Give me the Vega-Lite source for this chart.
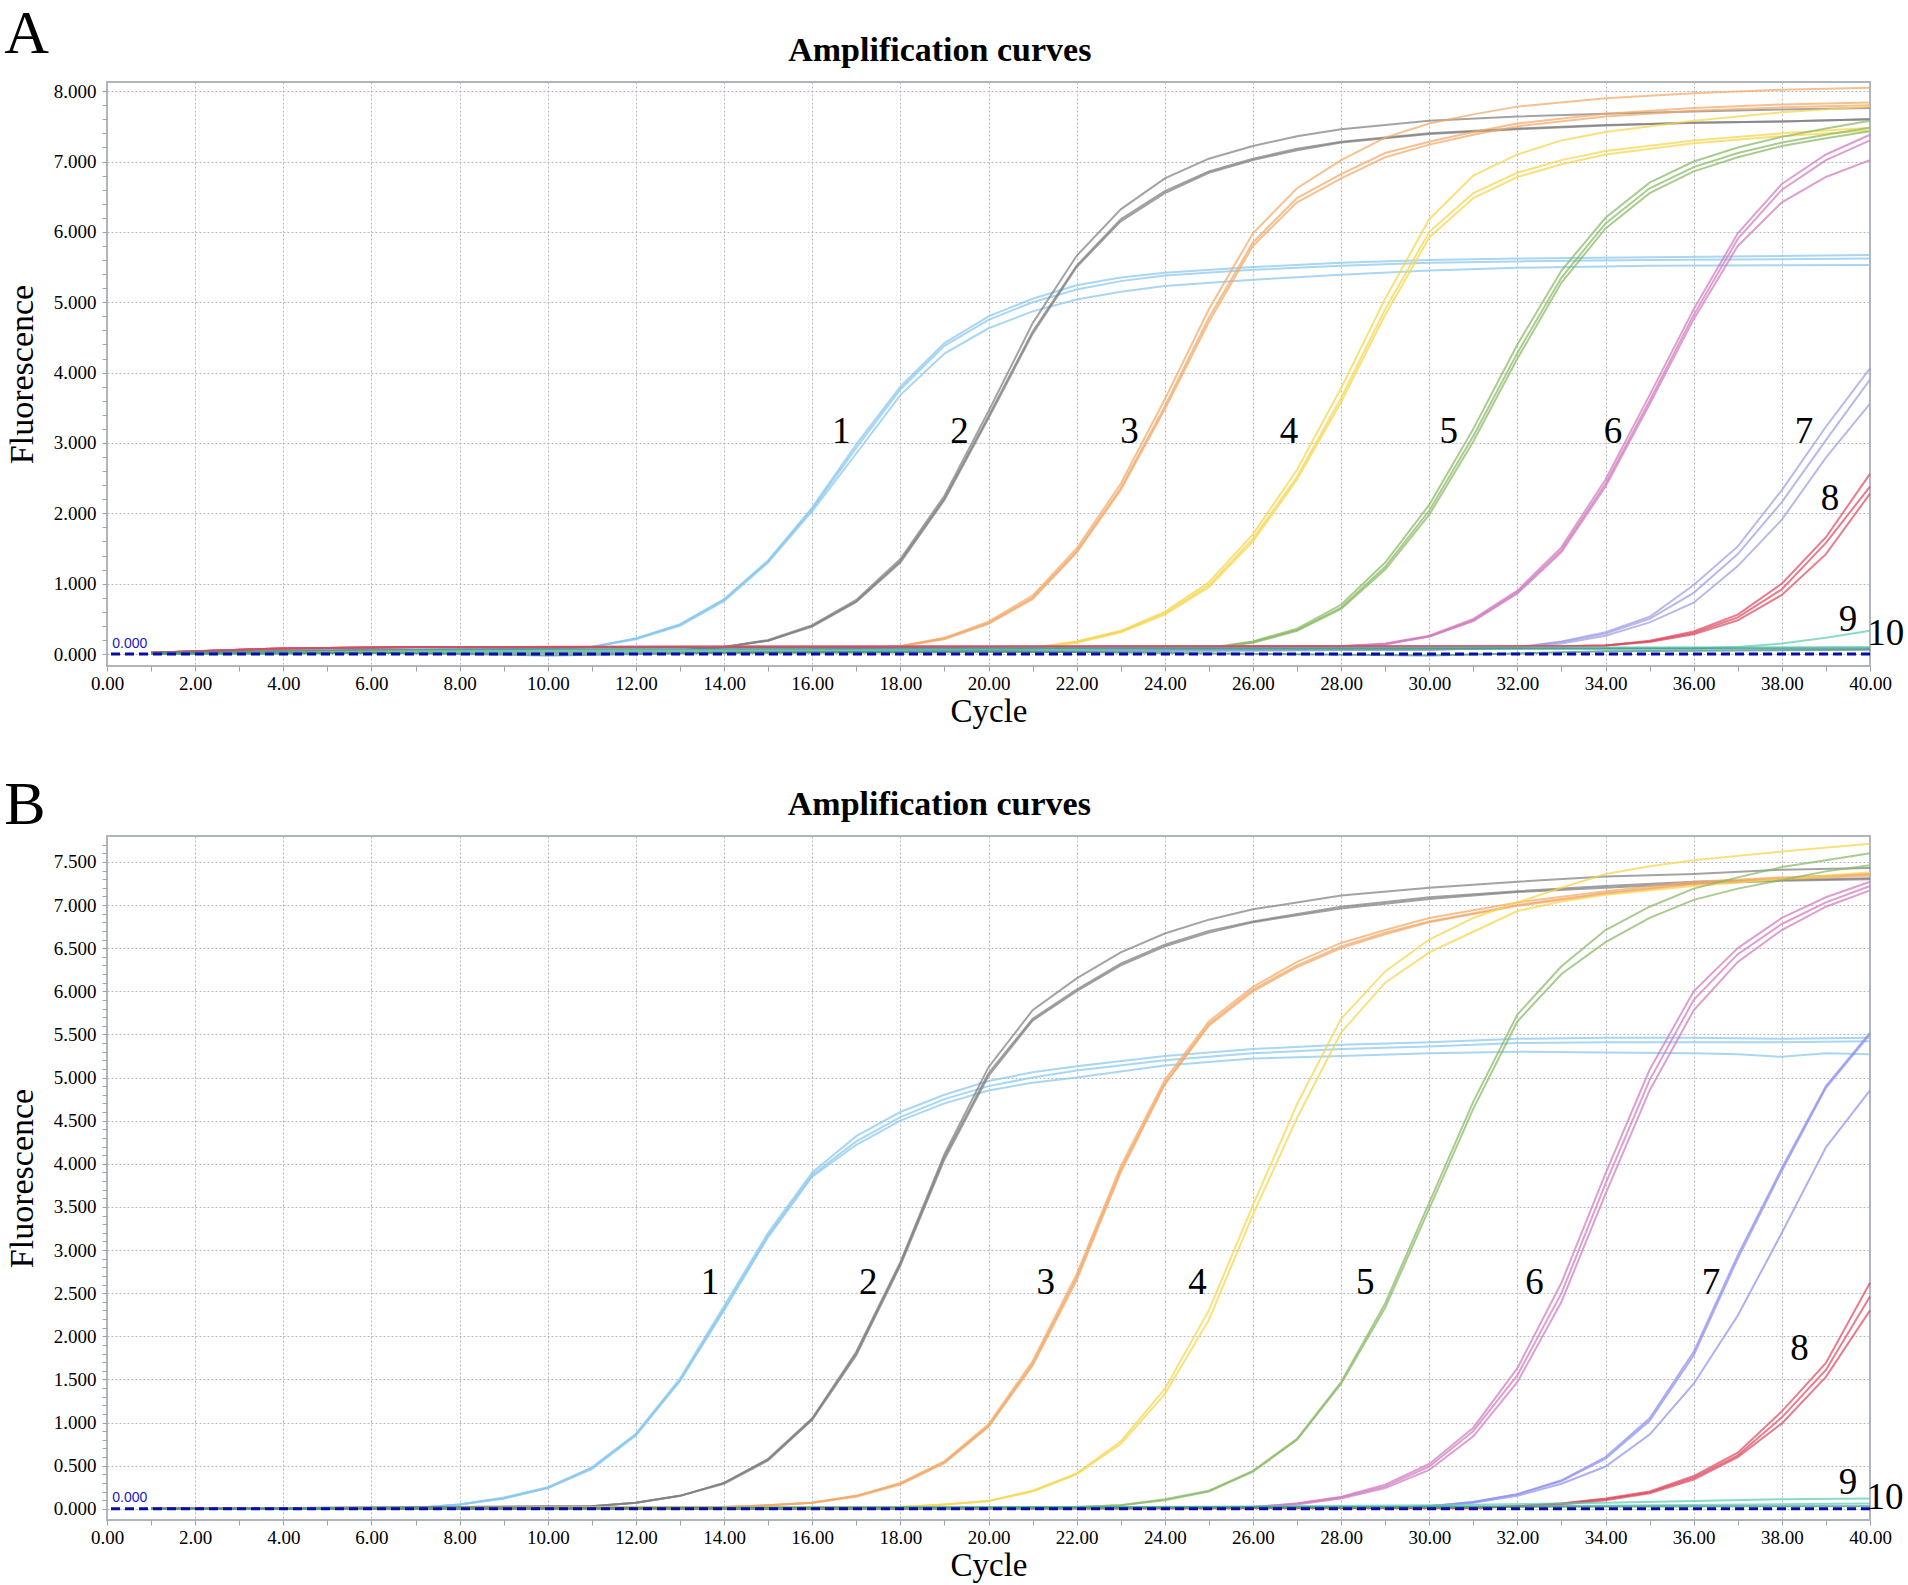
{
"$schema": "https://vega.github.io/schema/vega-lite/v6.json",
"background": "white",
"padding": {"left": 4, "top": 3, "right": 0, "bottom": 0},
"spacing": 44,
"config": {
  "view": {"stroke": "#b0b4bb", "strokeWidth": 2},
  "title": {"font": "Liberation Serif", "color": "#000000"},
  "text": {"font": "Liberation Serif"}
},
"datasets": {
"t": [
{"p":"A","x":16.66,"y":3.16,"t":"1"},{"p":"A","x":19.34,"y":3.16,"t":"2"},{"p":"A","x":23.2,"y":3.16,"t":"3"},{"p":"A","x":26.82,"y":3.16,"t":"4"},{"p":"A","x":30.44,"y":3.16,"t":"5"},{"p":"A","x":34.17,"y":3.16,"t":"6"},{"p":"A","x":38.5,"y":3.16,"t":"7"},{"p":"A","x":39.09,"y":2.21,"t":"8"},{"p":"A","x":39.5,"y":0.48,"t":"9"},{"p":"A","x":40.36,"y":0.28,"t":"10"},
{"p":"B","x":13.68,"y":2.62,"t":"1"},{"p":"B","x":17.27,"y":2.62,"t":"2"},{"p":"B","x":21.3,"y":2.62,"t":"3"},{"p":"B","x":24.74,"y":2.62,"t":"4"},{"p":"B","x":28.55,"y":2.62,"t":"5"},{"p":"B","x":32.39,"y":2.62,"t":"6"},{"p":"B","x":36.39,"y":2.62,"t":"7"},{"p":"B","x":38.4,"y":1.85,"t":"8"},{"p":"B","x":39.5,"y":0.3,"t":"9"},{"p":"B","x":40.34,"y":0.13,"t":"10"}
],
"c": [
{"p":"A","s":1,"r":"a","x":1,"y":0.02},{"p":"A","s":1,"r":"a","x":5,"y":0.05},{"p":"A","s":1,"r":"a","x":9,"y":0.07},{"p":"A","s":1,"r":"a","x":11,"y":0.1},{"p":"A","s":1,"r":"a","x":12,"y":0.22},{"p":"A","s":1,"r":"a","x":13,"y":0.42},{"p":"A","s":1,"r":"a","x":14,"y":0.78},{"p":"A","s":1,"r":"a","x":15,"y":1.33},{"p":"A","s":1,"r":"a","x":16,"y":2.08},{"p":"A","s":1,"r":"a","x":17,"y":2.98},{"p":"A","s":1,"r":"a","x":18,"y":3.8},{"p":"A","s":1,"r":"a","x":19,"y":4.42},{"p":"A","s":1,"r":"a","x":20,"y":4.8},{"p":"A","s":1,"r":"a","x":21,"y":5.05},{"p":"A","s":1,"r":"a","x":22,"y":5.24},{"p":"A","s":1,"r":"a","x":23,"y":5.35},{"p":"A","s":1,"r":"a","x":24,"y":5.42},{"p":"A","s":1,"r":"a","x":26,"y":5.5},{"p":"A","s":1,"r":"a","x":28,"y":5.56},{"p":"A","s":1,"r":"a","x":30,"y":5.6},{"p":"A","s":1,"r":"a","x":32,"y":5.62},{"p":"A","s":1,"r":"a","x":35,"y":5.64},{"p":"A","s":1,"r":"a","x":40,"y":5.67},
{"p":"A","s":1,"r":"b","x":1,"y":0.02},{"p":"A","s":1,"r":"b","x":5,"y":0.05},{"p":"A","s":1,"r":"b","x":9,"y":0.07},{"p":"A","s":1,"r":"b","x":11,"y":0.1},{"p":"A","s":1,"r":"b","x":12,"y":0.22},{"p":"A","s":1,"r":"b","x":13,"y":0.42},{"p":"A","s":1,"r":"b","x":14,"y":0.77},{"p":"A","s":1,"r":"b","x":15,"y":1.32},{"p":"A","s":1,"r":"b","x":16,"y":2.06},{"p":"A","s":1,"r":"b","x":17,"y":2.93},{"p":"A","s":1,"r":"b","x":18,"y":3.76},{"p":"A","s":1,"r":"b","x":19,"y":4.38},{"p":"A","s":1,"r":"b","x":20,"y":4.75},{"p":"A","s":1,"r":"b","x":21,"y":5.0},{"p":"A","s":1,"r":"b","x":22,"y":5.18},{"p":"A","s":1,"r":"b","x":23,"y":5.3},{"p":"A","s":1,"r":"b","x":24,"y":5.38},{"p":"A","s":1,"r":"b","x":26,"y":5.46},{"p":"A","s":1,"r":"b","x":28,"y":5.52},{"p":"A","s":1,"r":"b","x":30,"y":5.56},{"p":"A","s":1,"r":"b","x":32,"y":5.58},{"p":"A","s":1,"r":"b","x":35,"y":5.6},{"p":"A","s":1,"r":"b","x":40,"y":5.62},
{"p":"A","s":1,"r":"c","x":1,"y":0.02},{"p":"A","s":1,"r":"c","x":5,"y":0.05},{"p":"A","s":1,"r":"c","x":9,"y":0.07},{"p":"A","s":1,"r":"c","x":11,"y":0.1},{"p":"A","s":1,"r":"c","x":12,"y":0.21},{"p":"A","s":1,"r":"c","x":13,"y":0.4},{"p":"A","s":1,"r":"c","x":14,"y":0.75},{"p":"A","s":1,"r":"c","x":15,"y":1.3},{"p":"A","s":1,"r":"c","x":16,"y":2.03},{"p":"A","s":1,"r":"c","x":17,"y":2.85},{"p":"A","s":1,"r":"c","x":18,"y":3.68},{"p":"A","s":1,"r":"c","x":19,"y":4.27},{"p":"A","s":1,"r":"c","x":20,"y":4.63},{"p":"A","s":1,"r":"c","x":21,"y":4.87},{"p":"A","s":1,"r":"c","x":22,"y":5.04},{"p":"A","s":1,"r":"c","x":23,"y":5.15},{"p":"A","s":1,"r":"c","x":24,"y":5.23},{"p":"A","s":1,"r":"c","x":26,"y":5.32},{"p":"A","s":1,"r":"c","x":28,"y":5.39},{"p":"A","s":1,"r":"c","x":30,"y":5.45},{"p":"A","s":1,"r":"c","x":32,"y":5.49},{"p":"A","s":1,"r":"c","x":35,"y":5.52},{"p":"A","s":1,"r":"c","x":40,"y":5.53},
{"p":"A","s":2,"r":"a","x":1,"y":0.02},{"p":"A","s":2,"r":"a","x":8,"y":0.03},{"p":"A","s":2,"r":"a","x":12,"y":0.04},{"p":"A","s":2,"r":"a","x":13,"y":0.05},{"p":"A","s":2,"r":"a","x":14,"y":0.1},{"p":"A","s":2,"r":"a","x":15,"y":0.19},{"p":"A","s":2,"r":"a","x":16,"y":0.4},{"p":"A","s":2,"r":"a","x":17,"y":0.75},{"p":"A","s":2,"r":"a","x":18,"y":1.32},{"p":"A","s":2,"r":"a","x":19,"y":2.21},{"p":"A","s":2,"r":"a","x":20,"y":3.38},{"p":"A","s":2,"r":"a","x":21,"y":4.58},{"p":"A","s":2,"r":"a","x":22,"y":5.52},{"p":"A","s":2,"r":"a","x":23,"y":6.18},{"p":"A","s":2,"r":"a","x":24,"y":6.58},{"p":"A","s":2,"r":"a","x":25,"y":6.86},{"p":"A","s":2,"r":"a","x":26,"y":7.04},{"p":"A","s":2,"r":"a","x":27,"y":7.18},{"p":"A","s":2,"r":"a","x":28,"y":7.28},{"p":"A","s":2,"r":"a","x":30,"y":7.4},{"p":"A","s":2,"r":"a","x":32,"y":7.47},{"p":"A","s":2,"r":"a","x":34,"y":7.52},{"p":"A","s":2,"r":"a","x":36,"y":7.55},{"p":"A","s":2,"r":"a","x":38,"y":7.57},{"p":"A","s":2,"r":"a","x":40,"y":7.6},
{"p":"A","s":2,"r":"b","x":1,"y":0.02},{"p":"A","s":2,"r":"b","x":8,"y":0.03},{"p":"A","s":2,"r":"b","x":12,"y":0.04},{"p":"A","s":2,"r":"b","x":13,"y":0.05},{"p":"A","s":2,"r":"b","x":14,"y":0.1},{"p":"A","s":2,"r":"b","x":15,"y":0.19},{"p":"A","s":2,"r":"b","x":16,"y":0.39},{"p":"A","s":2,"r":"b","x":17,"y":0.74},{"p":"A","s":2,"r":"b","x":18,"y":1.3},{"p":"A","s":2,"r":"b","x":19,"y":2.19},{"p":"A","s":2,"r":"b","x":20,"y":3.35},{"p":"A","s":2,"r":"b","x":21,"y":4.55},{"p":"A","s":2,"r":"b","x":22,"y":5.5},{"p":"A","s":2,"r":"b","x":23,"y":6.15},{"p":"A","s":2,"r":"b","x":24,"y":6.55},{"p":"A","s":2,"r":"b","x":25,"y":6.84},{"p":"A","s":2,"r":"b","x":26,"y":7.02},{"p":"A","s":2,"r":"b","x":27,"y":7.16},{"p":"A","s":2,"r":"b","x":28,"y":7.27},{"p":"A","s":2,"r":"b","x":30,"y":7.39},{"p":"A","s":2,"r":"b","x":32,"y":7.46},{"p":"A","s":2,"r":"b","x":34,"y":7.51},{"p":"A","s":2,"r":"b","x":36,"y":7.55},{"p":"A","s":2,"r":"b","x":38,"y":7.57},{"p":"A","s":2,"r":"b","x":40,"y":7.6},
{"p":"A","s":2,"r":"c","x":1,"y":0.02},{"p":"A","s":2,"r":"c","x":8,"y":0.03},{"p":"A","s":2,"r":"c","x":12,"y":0.04},{"p":"A","s":2,"r":"c","x":13,"y":0.05},{"p":"A","s":2,"r":"c","x":14,"y":0.1},{"p":"A","s":2,"r":"c","x":15,"y":0.2},{"p":"A","s":2,"r":"c","x":16,"y":0.41},{"p":"A","s":2,"r":"c","x":17,"y":0.77},{"p":"A","s":2,"r":"c","x":18,"y":1.35},{"p":"A","s":2,"r":"c","x":19,"y":2.25},{"p":"A","s":2,"r":"c","x":20,"y":3.45},{"p":"A","s":2,"r":"c","x":21,"y":4.7},{"p":"A","s":2,"r":"c","x":22,"y":5.66},{"p":"A","s":2,"r":"c","x":23,"y":6.32},{"p":"A","s":2,"r":"c","x":24,"y":6.76},{"p":"A","s":2,"r":"c","x":25,"y":7.04},{"p":"A","s":2,"r":"c","x":26,"y":7.22},{"p":"A","s":2,"r":"c","x":27,"y":7.36},{"p":"A","s":2,"r":"c","x":28,"y":7.46},{"p":"A","s":2,"r":"c","x":30,"y":7.58},{"p":"A","s":2,"r":"c","x":32,"y":7.64},{"p":"A","s":2,"r":"c","x":34,"y":7.68},{"p":"A","s":2,"r":"c","x":36,"y":7.71},{"p":"A","s":2,"r":"c","x":38,"y":7.74},{"p":"A","s":2,"r":"c","x":40,"y":7.76},
{"p":"A","s":3,"r":"a","x":1,"y":0.02},{"p":"A","s":3,"r":"a","x":10,"y":0.05},{"p":"A","s":3,"r":"a","x":16,"y":0.06},{"p":"A","s":3,"r":"a","x":17,"y":0.08},{"p":"A","s":3,"r":"a","x":18,"y":0.11},{"p":"A","s":3,"r":"a","x":19,"y":0.23},{"p":"A","s":3,"r":"a","x":20,"y":0.46},{"p":"A","s":3,"r":"a","x":21,"y":0.83},{"p":"A","s":3,"r":"a","x":22,"y":1.5},{"p":"A","s":3,"r":"a","x":23,"y":2.42},{"p":"A","s":3,"r":"a","x":24,"y":3.62},{"p":"A","s":3,"r":"a","x":25,"y":4.9},{"p":"A","s":3,"r":"a","x":26,"y":5.98},{"p":"A","s":3,"r":"a","x":27,"y":6.62},{"p":"A","s":3,"r":"a","x":28,"y":7.02},{"p":"A","s":3,"r":"a","x":29,"y":7.34},{"p":"A","s":3,"r":"a","x":30,"y":7.54},{"p":"A","s":3,"r":"a","x":31,"y":7.67},{"p":"A","s":3,"r":"a","x":32,"y":7.78},{"p":"A","s":3,"r":"a","x":34,"y":7.9},{"p":"A","s":3,"r":"a","x":36,"y":7.97},{"p":"A","s":3,"r":"a","x":38,"y":8.02},{"p":"A","s":3,"r":"a","x":40,"y":8.05},
{"p":"A","s":3,"r":"b","x":1,"y":0.02},{"p":"A","s":3,"r":"b","x":10,"y":0.05},{"p":"A","s":3,"r":"b","x":16,"y":0.06},{"p":"A","s":3,"r":"b","x":17,"y":0.08},{"p":"A","s":3,"r":"b","x":18,"y":0.11},{"p":"A","s":3,"r":"b","x":19,"y":0.22},{"p":"A","s":3,"r":"b","x":20,"y":0.44},{"p":"A","s":3,"r":"b","x":21,"y":0.8},{"p":"A","s":3,"r":"b","x":22,"y":1.46},{"p":"A","s":3,"r":"b","x":23,"y":2.36},{"p":"A","s":3,"r":"b","x":24,"y":3.52},{"p":"A","s":3,"r":"b","x":25,"y":4.78},{"p":"A","s":3,"r":"b","x":26,"y":5.85},{"p":"A","s":3,"r":"b","x":27,"y":6.48},{"p":"A","s":3,"r":"b","x":28,"y":6.82},{"p":"A","s":3,"r":"b","x":29,"y":7.12},{"p":"A","s":3,"r":"b","x":30,"y":7.28},{"p":"A","s":3,"r":"b","x":31,"y":7.42},{"p":"A","s":3,"r":"b","x":32,"y":7.54},{"p":"A","s":3,"r":"b","x":34,"y":7.68},{"p":"A","s":3,"r":"b","x":36,"y":7.76},{"p":"A","s":3,"r":"b","x":38,"y":7.81},{"p":"A","s":3,"r":"b","x":40,"y":7.84},
{"p":"A","s":3,"r":"c","x":1,"y":0.02},{"p":"A","s":3,"r":"c","x":10,"y":0.05},{"p":"A","s":3,"r":"c","x":16,"y":0.06},{"p":"A","s":3,"r":"c","x":17,"y":0.08},{"p":"A","s":3,"r":"c","x":18,"y":0.11},{"p":"A","s":3,"r":"c","x":19,"y":0.21},{"p":"A","s":3,"r":"c","x":20,"y":0.43},{"p":"A","s":3,"r":"c","x":21,"y":0.78},{"p":"A","s":3,"r":"c","x":22,"y":1.44},{"p":"A","s":3,"r":"c","x":23,"y":2.33},{"p":"A","s":3,"r":"c","x":24,"y":3.48},{"p":"A","s":3,"r":"c","x":25,"y":4.72},{"p":"A","s":3,"r":"c","x":26,"y":5.8},{"p":"A","s":3,"r":"c","x":27,"y":6.42},{"p":"A","s":3,"r":"c","x":28,"y":6.76},{"p":"A","s":3,"r":"c","x":29,"y":7.06},{"p":"A","s":3,"r":"c","x":30,"y":7.24},{"p":"A","s":3,"r":"c","x":31,"y":7.38},{"p":"A","s":3,"r":"c","x":32,"y":7.5},{"p":"A","s":3,"r":"c","x":34,"y":7.64},{"p":"A","s":3,"r":"c","x":36,"y":7.72},{"p":"A","s":3,"r":"c","x":38,"y":7.77},{"p":"A","s":3,"r":"c","x":40,"y":7.8},
{"p":"A","s":4,"r":"a","x":1,"y":0.01},{"p":"A","s":4,"r":"a","x":20,"y":0.04},{"p":"A","s":4,"r":"a","x":21,"y":0.09},{"p":"A","s":4,"r":"a","x":22,"y":0.18},{"p":"A","s":4,"r":"a","x":23,"y":0.33},{"p":"A","s":4,"r":"a","x":24,"y":0.6},{"p":"A","s":4,"r":"a","x":25,"y":1.02},{"p":"A","s":4,"r":"a","x":26,"y":1.7},{"p":"A","s":4,"r":"a","x":27,"y":2.62},{"p":"A","s":4,"r":"a","x":28,"y":3.78},{"p":"A","s":4,"r":"a","x":29,"y":5.05},{"p":"A","s":4,"r":"a","x":30,"y":6.18},{"p":"A","s":4,"r":"a","x":31,"y":6.8},{"p":"A","s":4,"r":"a","x":32,"y":7.1},{"p":"A","s":4,"r":"a","x":33,"y":7.3},{"p":"A","s":4,"r":"a","x":34,"y":7.42},{"p":"A","s":4,"r":"a","x":36,"y":7.58},{"p":"A","s":4,"r":"a","x":38,"y":7.7},{"p":"A","s":4,"r":"a","x":40,"y":7.78},
{"p":"A","s":4,"r":"b","x":1,"y":0.01},{"p":"A","s":4,"r":"b","x":20,"y":0.04},{"p":"A","s":4,"r":"b","x":21,"y":0.09},{"p":"A","s":4,"r":"b","x":22,"y":0.17},{"p":"A","s":4,"r":"b","x":23,"y":0.32},{"p":"A","s":4,"r":"b","x":24,"y":0.58},{"p":"A","s":4,"r":"b","x":25,"y":0.98},{"p":"A","s":4,"r":"b","x":26,"y":1.64},{"p":"A","s":4,"r":"b","x":27,"y":2.52},{"p":"A","s":4,"r":"b","x":28,"y":3.64},{"p":"A","s":4,"r":"b","x":29,"y":4.9},{"p":"A","s":4,"r":"b","x":30,"y":6.0},{"p":"A","s":4,"r":"b","x":31,"y":6.55},{"p":"A","s":4,"r":"b","x":32,"y":6.84},{"p":"A","s":4,"r":"b","x":33,"y":7.02},{"p":"A","s":4,"r":"b","x":34,"y":7.15},{"p":"A","s":4,"r":"b","x":36,"y":7.3},{"p":"A","s":4,"r":"b","x":38,"y":7.4},{"p":"A","s":4,"r":"b","x":40,"y":7.48},
{"p":"A","s":4,"r":"c","x":1,"y":0.01},{"p":"A","s":4,"r":"c","x":20,"y":0.04},{"p":"A","s":4,"r":"c","x":21,"y":0.08},{"p":"A","s":4,"r":"c","x":22,"y":0.16},{"p":"A","s":4,"r":"c","x":23,"y":0.31},{"p":"A","s":4,"r":"c","x":24,"y":0.56},{"p":"A","s":4,"r":"c","x":25,"y":0.95},{"p":"A","s":4,"r":"c","x":26,"y":1.6},{"p":"A","s":4,"r":"c","x":27,"y":2.48},{"p":"A","s":4,"r":"c","x":28,"y":3.58},{"p":"A","s":4,"r":"c","x":29,"y":4.82},{"p":"A","s":4,"r":"c","x":30,"y":5.92},{"p":"A","s":4,"r":"c","x":31,"y":6.48},{"p":"A","s":4,"r":"c","x":32,"y":6.78},{"p":"A","s":4,"r":"c","x":33,"y":6.96},{"p":"A","s":4,"r":"c","x":34,"y":7.1},{"p":"A","s":4,"r":"c","x":36,"y":7.26},{"p":"A","s":4,"r":"c","x":38,"y":7.36},{"p":"A","s":4,"r":"c","x":40,"y":7.44},
{"p":"A","s":5,"r":"a","x":1,"y":0.01},{"p":"A","s":5,"r":"a","x":22,"y":0.03},{"p":"A","s":5,"r":"a","x":24,"y":0.05},{"p":"A","s":5,"r":"a","x":25,"y":0.09},{"p":"A","s":5,"r":"a","x":26,"y":0.18},{"p":"A","s":5,"r":"a","x":27,"y":0.36},{"p":"A","s":5,"r":"a","x":28,"y":0.7},{"p":"A","s":5,"r":"a","x":29,"y":1.3},{"p":"A","s":5,"r":"a","x":30,"y":2.12},{"p":"A","s":5,"r":"a","x":31,"y":3.2},{"p":"A","s":5,"r":"a","x":32,"y":4.4},{"p":"A","s":5,"r":"a","x":33,"y":5.45},{"p":"A","s":5,"r":"a","x":34,"y":6.2},{"p":"A","s":5,"r":"a","x":35,"y":6.7},{"p":"A","s":5,"r":"a","x":36,"y":7.0},{"p":"A","s":5,"r":"a","x":37,"y":7.2},{"p":"A","s":5,"r":"a","x":38,"y":7.35},{"p":"A","s":5,"r":"a","x":39,"y":7.47},{"p":"A","s":5,"r":"a","x":40,"y":7.58},
{"p":"A","s":5,"r":"b","x":1,"y":0.01},{"p":"A","s":5,"r":"b","x":22,"y":0.03},{"p":"A","s":5,"r":"b","x":24,"y":0.05},{"p":"A","s":5,"r":"b","x":25,"y":0.08},{"p":"A","s":5,"r":"b","x":26,"y":0.17},{"p":"A","s":5,"r":"b","x":27,"y":0.34},{"p":"A","s":5,"r":"b","x":28,"y":0.66},{"p":"A","s":5,"r":"b","x":29,"y":1.24},{"p":"A","s":5,"r":"b","x":30,"y":2.04},{"p":"A","s":5,"r":"b","x":31,"y":3.1},{"p":"A","s":5,"r":"b","x":32,"y":4.28},{"p":"A","s":5,"r":"b","x":33,"y":5.35},{"p":"A","s":5,"r":"b","x":34,"y":6.12},{"p":"A","s":5,"r":"b","x":35,"y":6.62},{"p":"A","s":5,"r":"b","x":36,"y":6.92},{"p":"A","s":5,"r":"b","x":37,"y":7.12},{"p":"A","s":5,"r":"b","x":38,"y":7.27},{"p":"A","s":5,"r":"b","x":39,"y":7.38},{"p":"A","s":5,"r":"b","x":40,"y":7.48},
{"p":"A","s":5,"r":"c","x":1,"y":0.01},{"p":"A","s":5,"r":"c","x":22,"y":0.03},{"p":"A","s":5,"r":"c","x":24,"y":0.05},{"p":"A","s":5,"r":"c","x":25,"y":0.08},{"p":"A","s":5,"r":"c","x":26,"y":0.16},{"p":"A","s":5,"r":"c","x":27,"y":0.33},{"p":"A","s":5,"r":"c","x":28,"y":0.64},{"p":"A","s":5,"r":"c","x":29,"y":1.2},{"p":"A","s":5,"r":"c","x":30,"y":1.98},{"p":"A","s":5,"r":"c","x":31,"y":3.02},{"p":"A","s":5,"r":"c","x":32,"y":4.2},{"p":"A","s":5,"r":"c","x":33,"y":5.28},{"p":"A","s":5,"r":"c","x":34,"y":6.05},{"p":"A","s":5,"r":"c","x":35,"y":6.55},{"p":"A","s":5,"r":"c","x":36,"y":6.86},{"p":"A","s":5,"r":"c","x":37,"y":7.06},{"p":"A","s":5,"r":"c","x":38,"y":7.22},{"p":"A","s":5,"r":"c","x":39,"y":7.33},{"p":"A","s":5,"r":"c","x":40,"y":7.43},
{"p":"A","s":6,"r":"a","x":1,"y":0.02},{"p":"A","s":6,"r":"a","x":4,"y":0.08},{"p":"A","s":6,"r":"a","x":7,"y":0.1},{"p":"A","s":6,"r":"a","x":28,"y":0.11},{"p":"A","s":6,"r":"a","x":29,"y":0.15},{"p":"A","s":6,"r":"a","x":30,"y":0.26},{"p":"A","s":6,"r":"a","x":31,"y":0.5},{"p":"A","s":6,"r":"a","x":32,"y":0.9},{"p":"A","s":6,"r":"a","x":33,"y":1.52},{"p":"A","s":6,"r":"a","x":34,"y":2.48},{"p":"A","s":6,"r":"a","x":35,"y":3.68},{"p":"A","s":6,"r":"a","x":36,"y":4.9},{"p":"A","s":6,"r":"a","x":37,"y":5.98},{"p":"A","s":6,"r":"a","x":38,"y":6.68},{"p":"A","s":6,"r":"a","x":39,"y":7.1},{"p":"A","s":6,"r":"a","x":40,"y":7.38},
{"p":"A","s":6,"r":"b","x":1,"y":0.02},{"p":"A","s":6,"r":"b","x":4,"y":0.08},{"p":"A","s":6,"r":"b","x":7,"y":0.1},{"p":"A","s":6,"r":"b","x":28,"y":0.11},{"p":"A","s":6,"r":"b","x":29,"y":0.14},{"p":"A","s":6,"r":"b","x":30,"y":0.25},{"p":"A","s":6,"r":"b","x":31,"y":0.48},{"p":"A","s":6,"r":"b","x":32,"y":0.88},{"p":"A","s":6,"r":"b","x":33,"y":1.48},{"p":"A","s":6,"r":"b","x":34,"y":2.42},{"p":"A","s":6,"r":"b","x":35,"y":3.6},{"p":"A","s":6,"r":"b","x":36,"y":4.82},{"p":"A","s":6,"r":"b","x":37,"y":5.9},{"p":"A","s":6,"r":"b","x":38,"y":6.6},{"p":"A","s":6,"r":"b","x":39,"y":7.02},{"p":"A","s":6,"r":"b","x":40,"y":7.3},
{"p":"A","s":6,"r":"c","x":1,"y":0.02},{"p":"A","s":6,"r":"c","x":4,"y":0.08},{"p":"A","s":6,"r":"c","x":7,"y":0.1},{"p":"A","s":6,"r":"c","x":28,"y":0.11},{"p":"A","s":6,"r":"c","x":29,"y":0.14},{"p":"A","s":6,"r":"c","x":30,"y":0.25},{"p":"A","s":6,"r":"c","x":31,"y":0.47},{"p":"A","s":6,"r":"c","x":32,"y":0.86},{"p":"A","s":6,"r":"c","x":33,"y":1.45},{"p":"A","s":6,"r":"c","x":34,"y":2.38},{"p":"A","s":6,"r":"c","x":35,"y":3.55},{"p":"A","s":6,"r":"c","x":36,"y":4.76},{"p":"A","s":6,"r":"c","x":37,"y":5.8},{"p":"A","s":6,"r":"c","x":38,"y":6.42},{"p":"A","s":6,"r":"c","x":39,"y":6.78},{"p":"A","s":6,"r":"c","x":40,"y":7.02},
{"p":"A","s":7,"r":"a","x":1,"y":0.01},{"p":"A","s":7,"r":"a","x":20,"y":0.04},{"p":"A","s":7,"r":"a","x":30,"y":0.06},{"p":"A","s":7,"r":"a","x":32,"y":0.1},{"p":"A","s":7,"r":"a","x":33,"y":0.18},{"p":"A","s":7,"r":"a","x":34,"y":0.31},{"p":"A","s":7,"r":"a","x":35,"y":0.53},{"p":"A","s":7,"r":"a","x":36,"y":0.98},{"p":"A","s":7,"r":"a","x":37,"y":1.53},{"p":"A","s":7,"r":"a","x":38,"y":2.33},{"p":"A","s":7,"r":"a","x":39,"y":3.23},{"p":"A","s":7,"r":"a","x":40,"y":4.06},
{"p":"A","s":7,"r":"b","x":1,"y":0.01},{"p":"A","s":7,"r":"b","x":20,"y":0.04},{"p":"A","s":7,"r":"b","x":30,"y":0.06},{"p":"A","s":7,"r":"b","x":32,"y":0.09},{"p":"A","s":7,"r":"b","x":33,"y":0.17},{"p":"A","s":7,"r":"b","x":34,"y":0.29},{"p":"A","s":7,"r":"b","x":35,"y":0.5},{"p":"A","s":7,"r":"b","x":36,"y":0.87},{"p":"A","s":7,"r":"b","x":37,"y":1.42},{"p":"A","s":7,"r":"b","x":38,"y":2.16},{"p":"A","s":7,"r":"b","x":39,"y":3.04},{"p":"A","s":7,"r":"b","x":40,"y":3.9},
{"p":"A","s":7,"r":"c","x":1,"y":0.01},{"p":"A","s":7,"r":"c","x":20,"y":0.04},{"p":"A","s":7,"r":"c","x":30,"y":0.06},{"p":"A","s":7,"r":"c","x":32,"y":0.09},{"p":"A","s":7,"r":"c","x":33,"y":0.15},{"p":"A","s":7,"r":"c","x":34,"y":0.26},{"p":"A","s":7,"r":"c","x":35,"y":0.45},{"p":"A","s":7,"r":"c","x":36,"y":0.73},{"p":"A","s":7,"r":"c","x":37,"y":1.25},{"p":"A","s":7,"r":"c","x":38,"y":1.91},{"p":"A","s":7,"r":"c","x":39,"y":2.79},{"p":"A","s":7,"r":"c","x":40,"y":3.56},
{"p":"A","s":8,"r":"a","x":1,"y":0.02},{"p":"A","s":8,"r":"a","x":4,"y":0.08},{"p":"A","s":8,"r":"a","x":7,"y":0.1},{"p":"A","s":8,"r":"a","x":33,"y":0.11},{"p":"A","s":8,"r":"a","x":34,"y":0.12},{"p":"A","s":8,"r":"a","x":35,"y":0.19},{"p":"A","s":8,"r":"a","x":36,"y":0.32},{"p":"A","s":8,"r":"a","x":37,"y":0.56},{"p":"A","s":8,"r":"a","x":38,"y":1.0},{"p":"A","s":8,"r":"a","x":39,"y":1.66},{"p":"A","s":8,"r":"a","x":40,"y":2.56},
{"p":"A","s":8,"r":"b","x":1,"y":0.02},{"p":"A","s":8,"r":"b","x":4,"y":0.08},{"p":"A","s":8,"r":"b","x":7,"y":0.1},{"p":"A","s":8,"r":"b","x":33,"y":0.11},{"p":"A","s":8,"r":"b","x":34,"y":0.12},{"p":"A","s":8,"r":"b","x":35,"y":0.18},{"p":"A","s":8,"r":"b","x":36,"y":0.3},{"p":"A","s":8,"r":"b","x":37,"y":0.52},{"p":"A","s":8,"r":"b","x":38,"y":0.92},{"p":"A","s":8,"r":"b","x":39,"y":1.58},{"p":"A","s":8,"r":"b","x":40,"y":2.38},
{"p":"A","s":8,"r":"c","x":1,"y":0.02},{"p":"A","s":8,"r":"c","x":4,"y":0.08},{"p":"A","s":8,"r":"c","x":7,"y":0.1},{"p":"A","s":8,"r":"c","x":33,"y":0.11},{"p":"A","s":8,"r":"c","x":34,"y":0.12},{"p":"A","s":8,"r":"c","x":35,"y":0.17},{"p":"A","s":8,"r":"c","x":36,"y":0.28},{"p":"A","s":8,"r":"c","x":37,"y":0.48},{"p":"A","s":8,"r":"c","x":38,"y":0.84},{"p":"A","s":8,"r":"c","x":39,"y":1.42},{"p":"A","s":8,"r":"c","x":40,"y":2.28},
{"p":"A","s":9,"r":"a","x":1,"y":0.0},{"p":"A","s":9,"r":"a","x":10,"y":0.04},{"p":"A","s":9,"r":"a","x":20,"y":0.06},{"p":"A","s":9,"r":"a","x":30,"y":0.07},{"p":"A","s":9,"r":"a","x":36,"y":0.08},{"p":"A","s":9,"r":"a","x":37,"y":0.1},{"p":"A","s":9,"r":"a","x":38,"y":0.15},{"p":"A","s":9,"r":"a","x":39,"y":0.23},{"p":"A","s":9,"r":"a","x":40,"y":0.33},
{"p":"A","s":9,"r":"b","x":1,"y":0.0},{"p":"A","s":9,"r":"b","x":10,"y":0.05},{"p":"A","s":9,"r":"b","x":20,"y":0.08},{"p":"A","s":9,"r":"b","x":40,"y":0.1},
{"p":"A","s":10,"r":"a","x":1,"y":0.0},{"p":"A","s":10,"r":"a","x":6,"y":0.02},{"p":"A","s":10,"r":"a","x":10,"y":-0.02},{"p":"A","s":10,"r":"a","x":14,"y":0.02},{"p":"A","s":10,"r":"a","x":20,"y":0.04},{"p":"A","s":10,"r":"a","x":30,"y":-0.02},{"p":"A","s":10,"r":"a","x":34,"y":0.04},{"p":"A","s":10,"r":"a","x":40,"y":0.06},
{"p":"A","s":10,"r":"b","x":1,"y":0.02},{"p":"A","s":10,"r":"b","x":6,"y":0.06},{"p":"A","s":10,"r":"b","x":12,"y":0.08},{"p":"A","s":10,"r":"b","x":40,"y":0.08},
{"p":"B","s":1,"r":"a","x":1,"y":0.0},{"p":"B","s":1,"r":"a","x":7,"y":0.01},{"p":"B","s":1,"r":"a","x":8,"y":0.05},{"p":"B","s":1,"r":"a","x":9,"y":0.13},{"p":"B","s":1,"r":"a","x":10,"y":0.25},{"p":"B","s":1,"r":"a","x":11,"y":0.48},{"p":"B","s":1,"r":"a","x":12,"y":0.87},{"p":"B","s":1,"r":"a","x":13,"y":1.51},{"p":"B","s":1,"r":"a","x":14,"y":2.35},{"p":"B","s":1,"r":"a","x":15,"y":3.2},{"p":"B","s":1,"r":"a","x":16,"y":3.9},{"p":"B","s":1,"r":"a","x":17,"y":4.32},{"p":"B","s":1,"r":"a","x":18,"y":4.6},{"p":"B","s":1,"r":"a","x":19,"y":4.8},{"p":"B","s":1,"r":"a","x":20,"y":4.96},{"p":"B","s":1,"r":"a","x":21,"y":5.06},{"p":"B","s":1,"r":"a","x":22,"y":5.13},{"p":"B","s":1,"r":"a","x":24,"y":5.25},{"p":"B","s":1,"r":"a","x":26,"y":5.33},{"p":"B","s":1,"r":"a","x":28,"y":5.38},{"p":"B","s":1,"r":"a","x":30,"y":5.41},{"p":"B","s":1,"r":"a","x":32,"y":5.45},{"p":"B","s":1,"r":"a","x":34,"y":5.46},{"p":"B","s":1,"r":"a","x":36,"y":5.46},{"p":"B","s":1,"r":"a","x":38,"y":5.45},{"p":"B","s":1,"r":"a","x":40,"y":5.46},
{"p":"B","s":1,"r":"b","x":1,"y":0.0},{"p":"B","s":1,"r":"b","x":7,"y":0.01},{"p":"B","s":1,"r":"b","x":8,"y":0.05},{"p":"B","s":1,"r":"b","x":9,"y":0.12},{"p":"B","s":1,"r":"b","x":10,"y":0.24},{"p":"B","s":1,"r":"b","x":11,"y":0.47},{"p":"B","s":1,"r":"b","x":12,"y":0.86},{"p":"B","s":1,"r":"b","x":13,"y":1.49},{"p":"B","s":1,"r":"b","x":14,"y":2.32},{"p":"B","s":1,"r":"b","x":15,"y":3.17},{"p":"B","s":1,"r":"b","x":16,"y":3.87},{"p":"B","s":1,"r":"b","x":17,"y":4.26},{"p":"B","s":1,"r":"b","x":18,"y":4.54},{"p":"B","s":1,"r":"b","x":19,"y":4.75},{"p":"B","s":1,"r":"b","x":20,"y":4.9},{"p":"B","s":1,"r":"b","x":21,"y":5.0},{"p":"B","s":1,"r":"b","x":22,"y":5.08},{"p":"B","s":1,"r":"b","x":24,"y":5.2},{"p":"B","s":1,"r":"b","x":26,"y":5.28},{"p":"B","s":1,"r":"b","x":28,"y":5.33},{"p":"B","s":1,"r":"b","x":30,"y":5.36},{"p":"B","s":1,"r":"b","x":32,"y":5.4},{"p":"B","s":1,"r":"b","x":34,"y":5.41},{"p":"B","s":1,"r":"b","x":36,"y":5.41},{"p":"B","s":1,"r":"b","x":38,"y":5.41},{"p":"B","s":1,"r":"b","x":40,"y":5.42},
{"p":"B","s":1,"r":"c","x":1,"y":0.0},{"p":"B","s":1,"r":"c","x":7,"y":0.01},{"p":"B","s":1,"r":"c","x":8,"y":0.05},{"p":"B","s":1,"r":"c","x":9,"y":0.12},{"p":"B","s":1,"r":"c","x":10,"y":0.24},{"p":"B","s":1,"r":"c","x":11,"y":0.46},{"p":"B","s":1,"r":"c","x":12,"y":0.85},{"p":"B","s":1,"r":"c","x":13,"y":1.48},{"p":"B","s":1,"r":"c","x":14,"y":2.3},{"p":"B","s":1,"r":"c","x":15,"y":3.15},{"p":"B","s":1,"r":"c","x":16,"y":3.85},{"p":"B","s":1,"r":"c","x":17,"y":4.22},{"p":"B","s":1,"r":"c","x":18,"y":4.5},{"p":"B","s":1,"r":"c","x":19,"y":4.7},{"p":"B","s":1,"r":"c","x":20,"y":4.85},{"p":"B","s":1,"r":"c","x":21,"y":4.94},{"p":"B","s":1,"r":"c","x":22,"y":5.0},{"p":"B","s":1,"r":"c","x":24,"y":5.14},{"p":"B","s":1,"r":"c","x":26,"y":5.22},{"p":"B","s":1,"r":"c","x":28,"y":5.25},{"p":"B","s":1,"r":"c","x":30,"y":5.28},{"p":"B","s":1,"r":"c","x":32,"y":5.3},{"p":"B","s":1,"r":"c","x":34,"y":5.29},{"p":"B","s":1,"r":"c","x":36,"y":5.28},{"p":"B","s":1,"r":"c","x":37,"y":5.27},{"p":"B","s":1,"r":"c","x":38,"y":5.24},{"p":"B","s":1,"r":"c","x":39,"y":5.28},{"p":"B","s":1,"r":"c","x":40,"y":5.27},
{"p":"B","s":2,"r":"a","x":1,"y":0.0},{"p":"B","s":2,"r":"a","x":8,"y":0.02},{"p":"B","s":2,"r":"a","x":11,"y":0.03},{"p":"B","s":2,"r":"a","x":12,"y":0.07},{"p":"B","s":2,"r":"a","x":13,"y":0.15},{"p":"B","s":2,"r":"a","x":14,"y":0.3},{"p":"B","s":2,"r":"a","x":15,"y":0.58},{"p":"B","s":2,"r":"a","x":16,"y":1.05},{"p":"B","s":2,"r":"a","x":17,"y":1.82},{"p":"B","s":2,"r":"a","x":18,"y":2.86},{"p":"B","s":2,"r":"a","x":19,"y":4.11},{"p":"B","s":2,"r":"a","x":20,"y":5.12},{"p":"B","s":2,"r":"a","x":21,"y":5.78},{"p":"B","s":2,"r":"a","x":22,"y":6.15},{"p":"B","s":2,"r":"a","x":23,"y":6.45},{"p":"B","s":2,"r":"a","x":24,"y":6.67},{"p":"B","s":2,"r":"a","x":25,"y":6.83},{"p":"B","s":2,"r":"a","x":26,"y":6.95},{"p":"B","s":2,"r":"a","x":28,"y":7.11},{"p":"B","s":2,"r":"a","x":30,"y":7.2},{"p":"B","s":2,"r":"a","x":32,"y":7.27},{"p":"B","s":2,"r":"a","x":34,"y":7.33},{"p":"B","s":2,"r":"a","x":36,"y":7.36},{"p":"B","s":2,"r":"a","x":38,"y":7.41},{"p":"B","s":2,"r":"a","x":40,"y":7.43},
{"p":"B","s":2,"r":"b","x":1,"y":0.0},{"p":"B","s":2,"r":"b","x":8,"y":0.02},{"p":"B","s":2,"r":"b","x":11,"y":0.03},{"p":"B","s":2,"r":"b","x":12,"y":0.07},{"p":"B","s":2,"r":"b","x":13,"y":0.15},{"p":"B","s":2,"r":"b","x":14,"y":0.3},{"p":"B","s":2,"r":"b","x":15,"y":0.57},{"p":"B","s":2,"r":"b","x":16,"y":1.04},{"p":"B","s":2,"r":"b","x":17,"y":1.8},{"p":"B","s":2,"r":"b","x":18,"y":2.84},{"p":"B","s":2,"r":"b","x":19,"y":4.08},{"p":"B","s":2,"r":"b","x":20,"y":5.05},{"p":"B","s":2,"r":"b","x":21,"y":5.68},{"p":"B","s":2,"r":"b","x":22,"y":6.02},{"p":"B","s":2,"r":"b","x":23,"y":6.32},{"p":"B","s":2,"r":"b","x":24,"y":6.54},{"p":"B","s":2,"r":"b","x":25,"y":6.7},{"p":"B","s":2,"r":"b","x":26,"y":6.81},{"p":"B","s":2,"r":"b","x":28,"y":6.98},{"p":"B","s":2,"r":"b","x":30,"y":7.09},{"p":"B","s":2,"r":"b","x":32,"y":7.16},{"p":"B","s":2,"r":"b","x":34,"y":7.22},{"p":"B","s":2,"r":"b","x":36,"y":7.27},{"p":"B","s":2,"r":"b","x":38,"y":7.29},{"p":"B","s":2,"r":"b","x":40,"y":7.31},
{"p":"B","s":2,"r":"c","x":1,"y":0.0},{"p":"B","s":2,"r":"c","x":8,"y":0.02},{"p":"B","s":2,"r":"c","x":11,"y":0.03},{"p":"B","s":2,"r":"c","x":12,"y":0.07},{"p":"B","s":2,"r":"c","x":13,"y":0.15},{"p":"B","s":2,"r":"c","x":14,"y":0.29},{"p":"B","s":2,"r":"c","x":15,"y":0.56},{"p":"B","s":2,"r":"c","x":16,"y":1.03},{"p":"B","s":2,"r":"c","x":17,"y":1.78},{"p":"B","s":2,"r":"c","x":18,"y":2.82},{"p":"B","s":2,"r":"c","x":19,"y":4.05},{"p":"B","s":2,"r":"c","x":20,"y":5.02},{"p":"B","s":2,"r":"c","x":21,"y":5.66},{"p":"B","s":2,"r":"c","x":22,"y":6.0},{"p":"B","s":2,"r":"c","x":23,"y":6.3},{"p":"B","s":2,"r":"c","x":24,"y":6.52},{"p":"B","s":2,"r":"c","x":25,"y":6.68},{"p":"B","s":2,"r":"c","x":26,"y":6.8},{"p":"B","s":2,"r":"c","x":28,"y":6.96},{"p":"B","s":2,"r":"c","x":30,"y":7.07},{"p":"B","s":2,"r":"c","x":32,"y":7.15},{"p":"B","s":2,"r":"c","x":34,"y":7.2},{"p":"B","s":2,"r":"c","x":36,"y":7.25},{"p":"B","s":2,"r":"c","x":38,"y":7.28},{"p":"B","s":2,"r":"c","x":40,"y":7.3},
{"p":"B","s":3,"r":"a","x":1,"y":0.0},{"p":"B","s":3,"r":"a","x":14,"y":0.02},{"p":"B","s":3,"r":"a","x":15,"y":0.04},{"p":"B","s":3,"r":"a","x":16,"y":0.07},{"p":"B","s":3,"r":"a","x":17,"y":0.15},{"p":"B","s":3,"r":"a","x":18,"y":0.3},{"p":"B","s":3,"r":"a","x":19,"y":0.55},{"p":"B","s":3,"r":"a","x":20,"y":0.98},{"p":"B","s":3,"r":"a","x":21,"y":1.71},{"p":"B","s":3,"r":"a","x":22,"y":2.72},{"p":"B","s":3,"r":"a","x":23,"y":3.97},{"p":"B","s":3,"r":"a","x":24,"y":4.97},{"p":"B","s":3,"r":"a","x":25,"y":5.65},{"p":"B","s":3,"r":"a","x":26,"y":6.05},{"p":"B","s":3,"r":"a","x":27,"y":6.34},{"p":"B","s":3,"r":"a","x":28,"y":6.56},{"p":"B","s":3,"r":"a","x":29,"y":6.71},{"p":"B","s":3,"r":"a","x":30,"y":6.85},{"p":"B","s":3,"r":"a","x":32,"y":7.03},{"p":"B","s":3,"r":"a","x":34,"y":7.16},{"p":"B","s":3,"r":"a","x":36,"y":7.27},{"p":"B","s":3,"r":"a","x":38,"y":7.32},{"p":"B","s":3,"r":"a","x":40,"y":7.36},
{"p":"B","s":3,"r":"b","x":1,"y":0.0},{"p":"B","s":3,"r":"b","x":14,"y":0.02},{"p":"B","s":3,"r":"b","x":15,"y":0.04},{"p":"B","s":3,"r":"b","x":16,"y":0.07},{"p":"B","s":3,"r":"b","x":17,"y":0.15},{"p":"B","s":3,"r":"b","x":18,"y":0.29},{"p":"B","s":3,"r":"b","x":19,"y":0.54},{"p":"B","s":3,"r":"b","x":20,"y":0.96},{"p":"B","s":3,"r":"b","x":21,"y":1.68},{"p":"B","s":3,"r":"b","x":22,"y":2.68},{"p":"B","s":3,"r":"b","x":23,"y":3.93},{"p":"B","s":3,"r":"b","x":24,"y":4.93},{"p":"B","s":3,"r":"b","x":25,"y":5.62},{"p":"B","s":3,"r":"b","x":26,"y":6.02},{"p":"B","s":3,"r":"b","x":27,"y":6.3},{"p":"B","s":3,"r":"b","x":28,"y":6.52},{"p":"B","s":3,"r":"b","x":29,"y":6.68},{"p":"B","s":3,"r":"b","x":30,"y":6.81},{"p":"B","s":3,"r":"b","x":32,"y":7.0},{"p":"B","s":3,"r":"b","x":34,"y":7.14},{"p":"B","s":3,"r":"b","x":36,"y":7.25},{"p":"B","s":3,"r":"b","x":38,"y":7.31},{"p":"B","s":3,"r":"b","x":40,"y":7.36},
{"p":"B","s":3,"r":"c","x":1,"y":0.0},{"p":"B","s":3,"r":"c","x":14,"y":0.02},{"p":"B","s":3,"r":"c","x":15,"y":0.04},{"p":"B","s":3,"r":"c","x":16,"y":0.07},{"p":"B","s":3,"r":"c","x":17,"y":0.14},{"p":"B","s":3,"r":"c","x":18,"y":0.28},{"p":"B","s":3,"r":"c","x":19,"y":0.53},{"p":"B","s":3,"r":"c","x":20,"y":0.95},{"p":"B","s":3,"r":"c","x":21,"y":1.66},{"p":"B","s":3,"r":"c","x":22,"y":2.65},{"p":"B","s":3,"r":"c","x":23,"y":3.9},{"p":"B","s":3,"r":"c","x":24,"y":4.92},{"p":"B","s":3,"r":"c","x":25,"y":5.6},{"p":"B","s":3,"r":"c","x":26,"y":6.0},{"p":"B","s":3,"r":"c","x":27,"y":6.28},{"p":"B","s":3,"r":"c","x":28,"y":6.5},{"p":"B","s":3,"r":"c","x":29,"y":6.66},{"p":"B","s":3,"r":"c","x":30,"y":6.8},{"p":"B","s":3,"r":"c","x":32,"y":6.99},{"p":"B","s":3,"r":"c","x":34,"y":7.13},{"p":"B","s":3,"r":"c","x":36,"y":7.24},{"p":"B","s":3,"r":"c","x":38,"y":7.3},{"p":"B","s":3,"r":"c","x":40,"y":7.34},
{"p":"B","s":4,"r":"a","x":1,"y":0.0},{"p":"B","s":4,"r":"a","x":18,"y":0.02},{"p":"B","s":4,"r":"a","x":19,"y":0.05},{"p":"B","s":4,"r":"a","x":20,"y":0.09},{"p":"B","s":4,"r":"a","x":21,"y":0.21},{"p":"B","s":4,"r":"a","x":22,"y":0.41},{"p":"B","s":4,"r":"a","x":23,"y":0.78},{"p":"B","s":4,"r":"a","x":24,"y":1.39},{"p":"B","s":4,"r":"a","x":25,"y":2.3},{"p":"B","s":4,"r":"a","x":26,"y":3.52},{"p":"B","s":4,"r":"a","x":27,"y":4.69},{"p":"B","s":4,"r":"a","x":28,"y":5.68},{"p":"B","s":4,"r":"a","x":29,"y":6.23},{"p":"B","s":4,"r":"a","x":30,"y":6.6},{"p":"B","s":4,"r":"a","x":31,"y":6.85},{"p":"B","s":4,"r":"a","x":32,"y":7.03},{"p":"B","s":4,"r":"a","x":33,"y":7.2},{"p":"B","s":4,"r":"a","x":34,"y":7.36},{"p":"B","s":4,"r":"a","x":35,"y":7.45},{"p":"B","s":4,"r":"a","x":36,"y":7.52},{"p":"B","s":4,"r":"a","x":38,"y":7.62},{"p":"B","s":4,"r":"a","x":40,"y":7.71},
{"p":"B","s":4,"r":"b","x":1,"y":0.0},{"p":"B","s":4,"r":"b","x":18,"y":0.02},{"p":"B","s":4,"r":"b","x":19,"y":0.05},{"p":"B","s":4,"r":"b","x":20,"y":0.09},{"p":"B","s":4,"r":"b","x":21,"y":0.2},{"p":"B","s":4,"r":"b","x":22,"y":0.4},{"p":"B","s":4,"r":"b","x":23,"y":0.75},{"p":"B","s":4,"r":"b","x":24,"y":1.33},{"p":"B","s":4,"r":"b","x":25,"y":2.19},{"p":"B","s":4,"r":"b","x":26,"y":3.41},{"p":"B","s":4,"r":"b","x":27,"y":4.53},{"p":"B","s":4,"r":"b","x":28,"y":5.52},{"p":"B","s":4,"r":"b","x":29,"y":6.1},{"p":"B","s":4,"r":"b","x":30,"y":6.45},{"p":"B","s":4,"r":"b","x":31,"y":6.69},{"p":"B","s":4,"r":"b","x":32,"y":6.93},{"p":"B","s":4,"r":"b","x":33,"y":7.04},{"p":"B","s":4,"r":"b","x":34,"y":7.12},{"p":"B","s":4,"r":"b","x":36,"y":7.22},{"p":"B","s":4,"r":"b","x":38,"y":7.3},{"p":"B","s":4,"r":"b","x":40,"y":7.38},
{"p":"B","s":5,"r":"a","x":1,"y":0.0},{"p":"B","s":5,"r":"a","x":22,"y":0.02},{"p":"B","s":5,"r":"a","x":23,"y":0.04},{"p":"B","s":5,"r":"a","x":24,"y":0.11},{"p":"B","s":5,"r":"a","x":25,"y":0.21},{"p":"B","s":5,"r":"a","x":26,"y":0.44},{"p":"B","s":5,"r":"a","x":27,"y":0.81},{"p":"B","s":5,"r":"a","x":28,"y":1.47},{"p":"B","s":5,"r":"a","x":29,"y":2.38},{"p":"B","s":5,"r":"a","x":30,"y":3.55},{"p":"B","s":5,"r":"a","x":31,"y":4.72},{"p":"B","s":5,"r":"a","x":32,"y":5.73},{"p":"B","s":5,"r":"a","x":33,"y":6.29},{"p":"B","s":5,"r":"a","x":34,"y":6.71},{"p":"B","s":5,"r":"a","x":35,"y":6.98},{"p":"B","s":5,"r":"a","x":36,"y":7.19},{"p":"B","s":5,"r":"a","x":37,"y":7.32},{"p":"B","s":5,"r":"a","x":38,"y":7.44},{"p":"B","s":5,"r":"a","x":39,"y":7.52},{"p":"B","s":5,"r":"a","x":40,"y":7.6},
{"p":"B","s":5,"r":"b","x":1,"y":0.0},{"p":"B","s":5,"r":"b","x":22,"y":0.02},{"p":"B","s":5,"r":"b","x":23,"y":0.04},{"p":"B","s":5,"r":"b","x":24,"y":0.1},{"p":"B","s":5,"r":"b","x":25,"y":0.2},{"p":"B","s":5,"r":"b","x":26,"y":0.43},{"p":"B","s":5,"r":"b","x":27,"y":0.8},{"p":"B","s":5,"r":"b","x":28,"y":1.45},{"p":"B","s":5,"r":"b","x":29,"y":2.33},{"p":"B","s":5,"r":"b","x":30,"y":3.48},{"p":"B","s":5,"r":"b","x":31,"y":4.64},{"p":"B","s":5,"r":"b","x":32,"y":5.65},{"p":"B","s":5,"r":"b","x":33,"y":6.2},{"p":"B","s":5,"r":"b","x":34,"y":6.57},{"p":"B","s":5,"r":"b","x":35,"y":6.85},{"p":"B","s":5,"r":"b","x":36,"y":7.06},{"p":"B","s":5,"r":"b","x":37,"y":7.19},{"p":"B","s":5,"r":"b","x":38,"y":7.29},{"p":"B","s":5,"r":"b","x":39,"y":7.39},{"p":"B","s":5,"r":"b","x":40,"y":7.46},
{"p":"B","s":6,"r":"a","x":1,"y":0.0},{"p":"B","s":6,"r":"a","x":25,"y":0.01},{"p":"B","s":6,"r":"a","x":26,"y":0.02},{"p":"B","s":6,"r":"a","x":27,"y":0.06},{"p":"B","s":6,"r":"a","x":28,"y":0.14},{"p":"B","s":6,"r":"a","x":29,"y":0.28},{"p":"B","s":6,"r":"a","x":30,"y":0.52},{"p":"B","s":6,"r":"a","x":31,"y":0.94},{"p":"B","s":6,"r":"a","x":32,"y":1.63},{"p":"B","s":6,"r":"a","x":33,"y":2.62},{"p":"B","s":6,"r":"a","x":34,"y":3.89},{"p":"B","s":6,"r":"a","x":35,"y":5.09},{"p":"B","s":6,"r":"a","x":36,"y":6.0},{"p":"B","s":6,"r":"a","x":37,"y":6.5},{"p":"B","s":6,"r":"a","x":38,"y":6.85},{"p":"B","s":6,"r":"a","x":39,"y":7.09},{"p":"B","s":6,"r":"a","x":40,"y":7.27},
{"p":"B","s":6,"r":"b","x":1,"y":0.0},{"p":"B","s":6,"r":"b","x":25,"y":0.01},{"p":"B","s":6,"r":"b","x":26,"y":0.02},{"p":"B","s":6,"r":"b","x":27,"y":0.06},{"p":"B","s":6,"r":"b","x":28,"y":0.13},{"p":"B","s":6,"r":"b","x":29,"y":0.26},{"p":"B","s":6,"r":"b","x":30,"y":0.49},{"p":"B","s":6,"r":"b","x":31,"y":0.9},{"p":"B","s":6,"r":"b","x":32,"y":1.55},{"p":"B","s":6,"r":"b","x":33,"y":2.5},{"p":"B","s":6,"r":"b","x":34,"y":3.77},{"p":"B","s":6,"r":"b","x":35,"y":4.97},{"p":"B","s":6,"r":"b","x":36,"y":5.9},{"p":"B","s":6,"r":"b","x":37,"y":6.43},{"p":"B","s":6,"r":"b","x":38,"y":6.78},{"p":"B","s":6,"r":"b","x":39,"y":7.03},{"p":"B","s":6,"r":"b","x":40,"y":7.22},
{"p":"B","s":6,"r":"c","x":1,"y":0.0},{"p":"B","s":6,"r":"c","x":25,"y":0.01},{"p":"B","s":6,"r":"c","x":26,"y":0.02},{"p":"B","s":6,"r":"c","x":27,"y":0.05},{"p":"B","s":6,"r":"c","x":28,"y":0.12},{"p":"B","s":6,"r":"c","x":29,"y":0.24},{"p":"B","s":6,"r":"c","x":30,"y":0.45},{"p":"B","s":6,"r":"c","x":31,"y":0.84},{"p":"B","s":6,"r":"c","x":32,"y":1.47},{"p":"B","s":6,"r":"c","x":33,"y":2.4},{"p":"B","s":6,"r":"c","x":34,"y":3.65},{"p":"B","s":6,"r":"c","x":35,"y":4.85},{"p":"B","s":6,"r":"c","x":36,"y":5.78},{"p":"B","s":6,"r":"c","x":37,"y":6.34},{"p":"B","s":6,"r":"c","x":38,"y":6.71},{"p":"B","s":6,"r":"c","x":39,"y":6.98},{"p":"B","s":6,"r":"c","x":40,"y":7.17},
{"p":"B","s":7,"r":"a","x":1,"y":0.0},{"p":"B","s":7,"r":"a","x":29,"y":0.01},{"p":"B","s":7,"r":"a","x":30,"y":0.03},{"p":"B","s":7,"r":"a","x":31,"y":0.08},{"p":"B","s":7,"r":"a","x":32,"y":0.17},{"p":"B","s":7,"r":"a","x":33,"y":0.33},{"p":"B","s":7,"r":"a","x":34,"y":0.6},{"p":"B","s":7,"r":"a","x":35,"y":1.05},{"p":"B","s":7,"r":"a","x":36,"y":1.82},{"p":"B","s":7,"r":"a","x":37,"y":2.94},{"p":"B","s":7,"r":"a","x":38,"y":3.95},{"p":"B","s":7,"r":"a","x":39,"y":4.9},{"p":"B","s":7,"r":"a","x":40,"y":5.52},
{"p":"B","s":7,"r":"b","x":1,"y":0.0},{"p":"B","s":7,"r":"b","x":29,"y":0.01},{"p":"B","s":7,"r":"b","x":30,"y":0.03},{"p":"B","s":7,"r":"b","x":31,"y":0.07},{"p":"B","s":7,"r":"b","x":32,"y":0.15},{"p":"B","s":7,"r":"b","x":33,"y":0.29},{"p":"B","s":7,"r":"b","x":34,"y":0.49},{"p":"B","s":7,"r":"b","x":35,"y":0.86},{"p":"B","s":7,"r":"b","x":36,"y":1.45},{"p":"B","s":7,"r":"b","x":37,"y":2.24},{"p":"B","s":7,"r":"b","x":38,"y":3.2},{"p":"B","s":7,"r":"b","x":39,"y":4.19},{"p":"B","s":7,"r":"b","x":40,"y":4.85},
{"p":"B","s":7,"r":"c","x":1,"y":0.0},{"p":"B","s":7,"r":"c","x":29,"y":0.01},{"p":"B","s":7,"r":"c","x":30,"y":0.03},{"p":"B","s":7,"r":"c","x":31,"y":0.08},{"p":"B","s":7,"r":"c","x":32,"y":0.17},{"p":"B","s":7,"r":"c","x":33,"y":0.32},{"p":"B","s":7,"r":"c","x":34,"y":0.58},{"p":"B","s":7,"r":"c","x":35,"y":1.02},{"p":"B","s":7,"r":"c","x":36,"y":1.78},{"p":"B","s":7,"r":"c","x":37,"y":2.9},{"p":"B","s":7,"r":"c","x":38,"y":3.92},{"p":"B","s":7,"r":"c","x":39,"y":4.88},{"p":"B","s":7,"r":"c","x":40,"y":5.5},
{"p":"B","s":8,"r":"a","x":1,"y":0.0},{"p":"B","s":8,"r":"a","x":31,"y":0.01},{"p":"B","s":8,"r":"a","x":32,"y":0.03},{"p":"B","s":8,"r":"a","x":33,"y":0.06},{"p":"B","s":8,"r":"a","x":34,"y":0.12},{"p":"B","s":8,"r":"a","x":35,"y":0.2},{"p":"B","s":8,"r":"a","x":36,"y":0.38},{"p":"B","s":8,"r":"a","x":37,"y":0.65},{"p":"B","s":8,"r":"a","x":38,"y":1.13},{"p":"B","s":8,"r":"a","x":39,"y":1.69},{"p":"B","s":8,"r":"a","x":40,"y":2.62},
{"p":"B","s":8,"r":"b","x":1,"y":0.0},{"p":"B","s":8,"r":"b","x":31,"y":0.01},{"p":"B","s":8,"r":"b","x":32,"y":0.03},{"p":"B","s":8,"r":"b","x":33,"y":0.06},{"p":"B","s":8,"r":"b","x":34,"y":0.11},{"p":"B","s":8,"r":"b","x":35,"y":0.19},{"p":"B","s":8,"r":"b","x":36,"y":0.36},{"p":"B","s":8,"r":"b","x":37,"y":0.62},{"p":"B","s":8,"r":"b","x":38,"y":1.06},{"p":"B","s":8,"r":"b","x":39,"y":1.61},{"p":"B","s":8,"r":"b","x":40,"y":2.46},
{"p":"B","s":8,"r":"c","x":1,"y":0.0},{"p":"B","s":8,"r":"c","x":31,"y":0.01},{"p":"B","s":8,"r":"c","x":32,"y":0.03},{"p":"B","s":8,"r":"c","x":33,"y":0.05},{"p":"B","s":8,"r":"c","x":34,"y":0.1},{"p":"B","s":8,"r":"c","x":35,"y":0.18},{"p":"B","s":8,"r":"c","x":36,"y":0.34},{"p":"B","s":8,"r":"c","x":37,"y":0.6},{"p":"B","s":8,"r":"c","x":38,"y":0.99},{"p":"B","s":8,"r":"c","x":39,"y":1.53},{"p":"B","s":8,"r":"c","x":40,"y":2.3},
{"p":"B","s":9,"r":"a","x":1,"y":0.0},{"p":"B","s":9,"r":"a","x":20,"y":0.01},{"p":"B","s":9,"r":"a","x":30,"y":0.04},{"p":"B","s":9,"r":"a","x":34,"y":0.07},{"p":"B","s":9,"r":"a","x":36,"y":0.09},{"p":"B","s":9,"r":"a","x":38,"y":0.11},{"p":"B","s":9,"r":"a","x":40,"y":0.12},
{"p":"B","s":9,"r":"b","x":1,"y":0.0},{"p":"B","s":9,"r":"b","x":30,"y":0.02},{"p":"B","s":9,"r":"b","x":40,"y":0.06},
{"p":"B","s":10,"r":"a","x":1,"y":0.0},{"p":"B","s":10,"r":"a","x":40,"y":0.03}
]
},
"vconcat": [
{
  "title": {"text": "A", "anchor": "start", "frame": "bounds", "fontSize": 62, "fontWeight": "normal", "offset": -33},
  "vconcat": [{
    "title": {"text": "Amplification curves", "anchor": "middle", "frame": "bounds", "fontSize": 34, "fontWeight": "bold", "offset": 14, "dx": -15},
    "width": 1763, "height": 584,
    "layer": [
      {"data": {"name": "c"}, "transform": [{"filter": "datum.p == 'A'"}],
       "mark": {"type": "line", "strokeWidth": 2, "opacity": 0.72},
       "encoding": {
         "x": {"field": "x", "type": "quantitative", "scale": {"domain": [0, 40], "nice": false, "zero": false},
           "axis": {"title": "Cycle", "tickCount": 100, "values": [0,1,2,3,4,5,6,7,8,9,10,11,12,13,14,15,16,17,18,19,20,21,22,23,24,25,26,27,28,29,30,31,32,33,34,35,36,37,38,39,40],
             "labelExpr": "datum.value % 2 === 0 ? format(datum.value, '.2f') : ''", "labelFlush": false, "labelOverlap": false,
             "labelFont": "Liberation Serif", "labelFontSize": 19, "labelColor": "#000000", "labelPadding": 3,
             "tickColor": "#9ea2aa", "tickSize": 5, "grid": true, "gridColor": "#b4b8c0", "gridDash": [2, 2],
             "gridOpacity": {"condition": {"test": "datum.value % 2 === 0", "value": 1}, "value": 0},
             "domain": false, "titleFont": "Liberation Serif", "titleFontSize": 33, "titleFontWeight": "normal", "titleColor": "#000000", "titlePadding": 2}},
         "y": {"field": "y", "type": "quantitative", "scale": {"domain": [-0.17, 8.13], "nice": false, "zero": false},
           "axis": {"title": "Fluorescence", "tickCount": 100, "values": [0,0.2,0.4,0.6,0.8,1,1.2,1.4,1.6,1.8,2,2.2,2.4,2.6,2.8,3,3.2,3.4,3.6,3.8,4,4.2,4.4,4.6,4.8,5,5.2,5.4,5.6,5.8,6,6.2,6.4,6.6,6.8,7,7.2,7.4,7.6,7.8,8],
             "labelExpr": "abs(datum.value - round(datum.value)) < 0.001 ? format(datum.value, '.3f') : ''", "labelOverlap": false,
             "labelFont": "Liberation Serif", "labelFontSize": 19, "labelColor": "#000000", "labelPadding": 6,
             "tickColor": "#9ea2aa", "tickSize": 5, "grid": true, "gridColor": "#b4b8c0", "gridDash": [2, 2],
             "gridOpacity": {"condition": {"test": "abs(datum.value - round(datum.value)) < 0.001", "value": 1}, "value": 0},
             "domain": false, "titleFont": "Liberation Serif", "titleFontSize": 34, "titleFontWeight": "normal", "titleColor": "#000000", "titlePadding": 14}},
         "color": {"field": "s", "type": "nominal", "scale": {"domain": [1,2,3,4,5,6,7,8,9,10], "range": ["#86c6ee","#808080","#f3a766","#f5d64a","#88b862","#d07abe","#9c9ee2","#dc4a60","#5ccdb0","#3f8f86"]}, "legend": null},
         "detail": [{"field": "s"}, {"field": "r"}]
       }},
      {"data": {"values": [{"y": 0}]},
       "mark": {"type": "rule", "color": "#0b0ba8", "strokeWidth": 3, "strokeDash": [9, 5]},
       "encoding": {"y": {"field": "y", "type": "quantitative"}}},
      {"data": {"values": [{"x": 0.12, "y": 0.05, "t": "0.000"}]},
       "mark": {"type": "text", "font": "Liberation Sans", "fontSize": 14, "color": "#1a1ab5", "align": "left", "baseline": "bottom"},
       "encoding": {"x": {"field": "x", "type": "quantitative"}, "y": {"field": "y", "type": "quantitative"}, "text": {"field": "t"}}},
      {"data": {"name": "t"}, "transform": [{"filter": "datum.p == 'A'"}],
       "mark": {"type": "text", "font": "Liberation Serif", "fontSize": 37, "color": "#000000", "align": "center", "baseline": "middle"},
       "encoding": {"x": {"field": "x", "type": "quantitative"}, "y": {"field": "y", "type": "quantitative"}, "text": {"field": "t"}}}
    ]
  }]
},
{
  "title": {"text": "B", "anchor": "start", "frame": "bounds", "fontSize": 62, "fontWeight": "normal", "offset": -50},
  "vconcat": [{
    "title": {"text": "Amplification curves", "anchor": "middle", "frame": "bounds", "fontSize": 34, "fontWeight": "bold", "offset": 14, "dx": -15},
    "width": 1763, "height": 684,
    "layer": [
      {"data": {"name": "c"}, "transform": [{"filter": "datum.p == 'B'"}],
       "mark": {"type": "line", "strokeWidth": 2, "opacity": 0.72},
       "encoding": {
         "x": {"field": "x", "type": "quantitative", "scale": {"domain": [0, 40], "nice": false, "zero": false},
           "axis": {"title": "Cycle", "tickCount": 100, "values": [0,1,2,3,4,5,6,7,8,9,10,11,12,13,14,15,16,17,18,19,20,21,22,23,24,25,26,27,28,29,30,31,32,33,34,35,36,37,38,39,40],
             "labelExpr": "datum.value % 2 === 0 ? format(datum.value, '.2f') : ''", "labelFlush": false, "labelOverlap": false,
             "labelFont": "Liberation Serif", "labelFontSize": 19, "labelColor": "#000000", "labelPadding": 3,
             "tickColor": "#9ea2aa", "tickSize": 5, "grid": true, "gridColor": "#b4b8c0", "gridDash": [2, 2],
             "gridOpacity": {"condition": {"test": "datum.value % 2 === 0", "value": 1}, "value": 0},
             "domain": false, "titleFont": "Liberation Serif", "titleFontSize": 33, "titleFontWeight": "normal", "titleColor": "#000000", "titlePadding": 2}},
         "y": {"field": "y", "type": "quantitative", "scale": {"domain": [-0.13, 7.8], "nice": false, "zero": false},
           "axis": {"title": "Fluorescence", "tickCount": 100, "values": [0,0.1,0.2,0.3,0.4,0.5,0.6,0.7,0.8,0.9,1,1.1,1.2,1.3,1.4,1.5,1.6,1.7,1.8,1.9,2,2.1,2.2,2.3,2.4,2.5,2.6,2.7,2.8,2.9,3,3.1,3.2,3.3,3.4,3.5,3.6,3.7,3.8,3.9,4,4.1,4.2,4.3,4.4,4.5,4.6,4.7,4.8,4.9,5,5.1,5.2,5.3,5.4,5.5,5.6,5.7,5.8,5.9,6,6.1,6.2,6.3,6.4,6.5,6.6,6.7,6.8,6.9,7,7.1,7.2,7.3,7.4,7.5,7.6,7.7],
             "labelExpr": "abs(datum.value * 2 - round(datum.value * 2)) < 0.001 ? format(datum.value, '.3f') : ''", "labelOverlap": false,
             "labelFont": "Liberation Serif", "labelFontSize": 19, "labelColor": "#000000", "labelPadding": 6,
             "tickColor": "#9ea2aa", "tickSize": 5, "grid": true, "gridColor": "#b4b8c0", "gridDash": [2, 2],
             "gridOpacity": {"condition": {"test": "abs(datum.value * 2 - round(datum.value * 2)) < 0.001", "value": 1}, "value": 0},
             "domain": false, "titleFont": "Liberation Serif", "titleFontSize": 34, "titleFontWeight": "normal", "titleColor": "#000000", "titlePadding": 14}},
         "color": {"field": "s", "type": "nominal", "scale": {"domain": [1,2,3,4,5,6,7,8,9,10], "range": ["#86c6ee","#808080","#f3a766","#f5d64a","#88b862","#d07abe","#8f92ee","#dc4a60","#5ccdb0","#3f8f86"]}, "legend": null},
         "detail": [{"field": "s"}, {"field": "r"}]
       }},
      {"data": {"values": [{"y": 0}]},
       "mark": {"type": "rule", "color": "#0b0ba8", "strokeWidth": 3, "strokeDash": [9, 5]},
       "encoding": {"y": {"field": "y", "type": "quantitative"}}},
      {"data": {"values": [{"x": 0.12, "y": 0.04, "t": "0.000"}]},
       "mark": {"type": "text", "font": "Liberation Sans", "fontSize": 14, "color": "#1a1ab5", "align": "left", "baseline": "bottom"},
       "encoding": {"x": {"field": "x", "type": "quantitative"}, "y": {"field": "y", "type": "quantitative"}, "text": {"field": "t"}}},
      {"data": {"name": "t"}, "transform": [{"filter": "datum.p == 'B'"}],
       "mark": {"type": "text", "font": "Liberation Serif", "fontSize": 37, "color": "#000000", "align": "center", "baseline": "middle"},
       "encoding": {"x": {"field": "x", "type": "quantitative"}, "y": {"field": "y", "type": "quantitative"}, "text": {"field": "t"}}}
    ]
  }]
}
],
"resolve": {"scale": {"x": "independent", "y": "independent", "color": "independent"}}
}
